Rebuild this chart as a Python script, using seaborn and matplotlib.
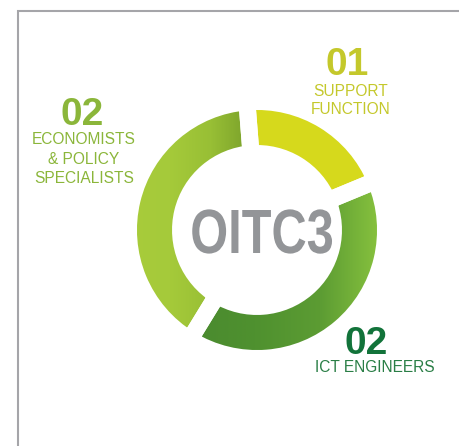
import numpy as np
import matplotlib
matplotlib.use("Agg")
import matplotlib.pyplot as plt
from matplotlib import patheffects
from matplotlib.colors import LinearSegmentedColormap
from matplotlib.transforms import Affine2D
import seaborn as sns

# staff counts per group, clockwise from the top
counts = [1, 2, 2]
numbers = ["01", "02", "02"]
roles = [["SUPPORT", "FUNCTION"],
         ["ICT ENGINEERS"],
         ["ECONOMISTS", "& POLICY", "SPECIALISTS"]]
title = "OITC3"

sns.set_theme(style="white")
plt.rcParams["font.family"] = ["Liberation Sans", "DejaVu Sans"]

W, H = 459, 446


def py(y):
    # pixel row -> data y (data units are pixels, y up)
    return H - y


class Condense(patheffects.AbstractPathEffect):
    """Squeeze glyphs horizontally around a data x (no condensed font installed)."""

    def __init__(self, ax, x, sx):
        super().__init__()
        self.ax, self.x, self.sx = ax, x, sx

    def draw_path(self, renderer, gc, tpath, affine, rgbFace=None):
        cx = self.ax.transData.transform((self.x, 0))[0]
        squeeze = Affine2D().translate(-cx, 0).scale(self.sx, 1).translate(cx, 0)
        renderer.draw_path(gc, tpath, affine + squeeze, rgbFace)


fig = plt.figure(figsize=(W / 100, H / 100), dpi=100)
ax = fig.add_axes([0, 0, 1, 1])

# donut
wedges, _ = ax.pie(counts, radius=128.5, center=(257, py(230)),
                   startangle=94.5, counterclock=False,
                   colors=["#d6d91c", "none", "none"],
                   wedgeprops=dict(width=52, edgecolor="white", linewidth=12.2))

gradients = {
    1: ["#4a8a2f", "#4f912f", "#5c9c33", "#8cc63f"],
    2: ["#a8cc3b", "#a5ca3a", "#98bf35", "#789f2a"],
}
for i, stops in gradients.items():
    w = wedges[i]
    bb = w.get_path().get_extents()
    cmap = LinearSegmentedColormap.from_list("grad%d" % i, stops)
    im = ax.imshow(np.linspace(0, 1, 256)[None, :], cmap=cmap, aspect="auto",
                   extent=(bb.x0, bb.x1, bb.y0, bb.y1), zorder=0.5,
                   interpolation="bilinear")
    im.set_clip_path(w)

# centre title
ax.text(262, py(253), title, ha="center", va="baseline", fontsize=45,
        fontweight="bold", color="#939598",
        path_effects=[Condense(ax, 262, 0.78)])

# group labels: number x, number baseline, label x, first line baseline, step
label_pos = [(347, 75, 351, 96, 18),
             (366, 354, 375, 372, 19),
             (82, 125, 84, 144, 19.5)]
num_colors = ["#c4c82b", "#12733a", "#8bb63a"]
txt_colors = ["#c4c82b", "#2a7e46", "#8bb63a"]

for k in range(3):
    nx, ny, lx, ly, step = label_pos[k]
    ax.text(nx, py(ny), numbers[k], ha="center", va="baseline",
            fontsize=28, fontweight="bold", color=num_colors[k])
    for j, line in enumerate(roles[k]):
        ax.text(lx, py(ly + j * step), line, ha="center", va="baseline",
                fontsize=11.2, color=txt_colors[k])

# partial frame
ax.plot([18, 18, W], [py(H), py(11), py(11)], color="#a5a5a9", lw=1.5,
        solid_joinstyle="miter")

ax.set_xlim(0, W)
ax.set_ylim(0, H)
ax.set_aspect("auto")
ax.axis("off")

fig.savefig("out.png", dpi=100, facecolor="white")
